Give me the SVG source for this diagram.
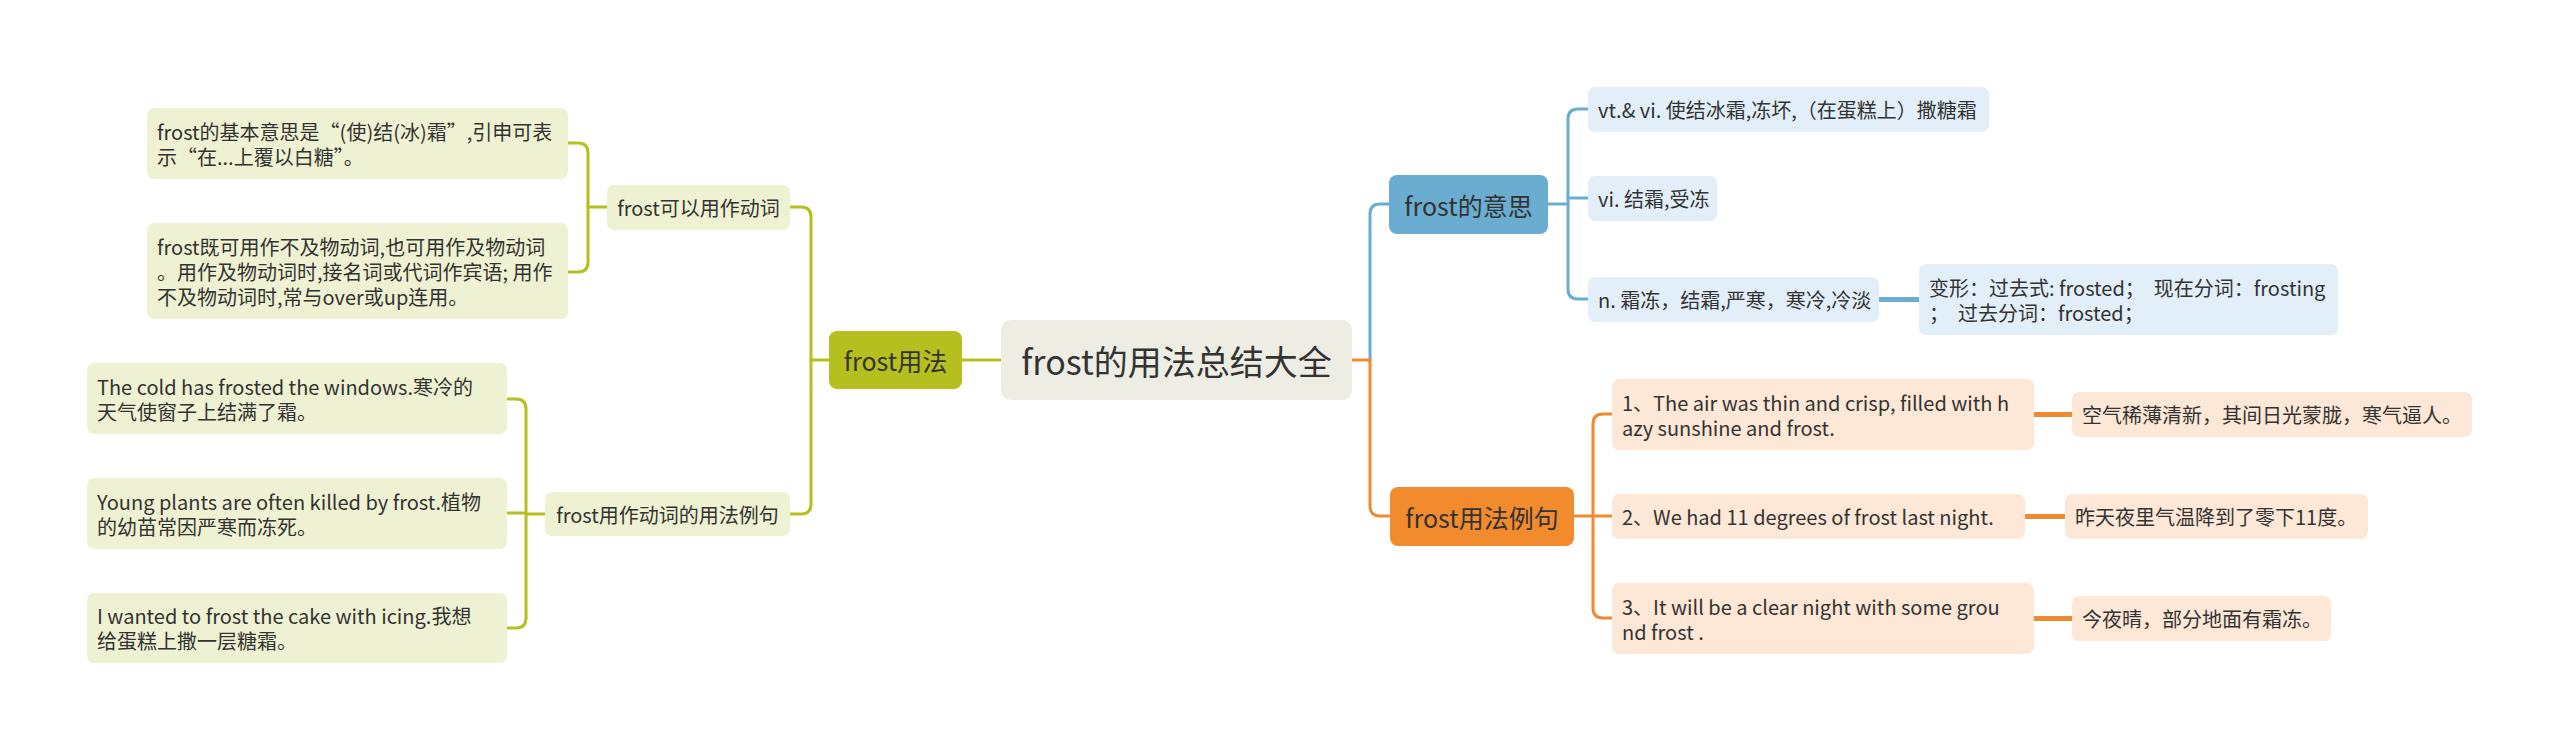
<svg xmlns="http://www.w3.org/2000/svg" width="2560" height="751" viewBox="0 0 2560 751">
<style>
text{font-family:"Noto Sans CJK SC","Noto Sans",sans-serif;fill:#333;dominant-baseline:central;white-space:pre}
.t20{font-size:20px}
.t25{font-size:25px;text-anchor:middle}
.mid{text-anchor:middle}
.c{fill:none;stroke-width:3;stroke-linecap:round}
.ol{stroke:#B5C01E}.bl{stroke:#6AADD1}.or{stroke:#F08A30}
.thick{stroke-width:5}
.lf{fill:#EFF2D2}.bf{fill:#E2EFF8}.of{fill:#FDE7D6}
</style>
<rect width="2560" height="751" fill="#FFFFFF"/>
<g id="connectors">
<path class="c ol" d="M1001,360 H962"/>
<path class="c ol" d="M829,360 H811"/>
<path class="c ol" d="M790,207 H801 Q811,207 811,217 V504 Q811,514 801,514 H790"/>
<path class="c ol" d="M607,207 H588"/>
<path class="c ol" d="M568,143 H578 Q588,143 588,153 V262 Q588,272 578,272 H568"/>
<path class="c ol" d="M545,514 H526"/>
<path class="c ol" d="M507,399 H516 Q526,399 526,409 V618 Q526,628 516,628 H507"/>
<path class="c ol" d="M507,513 H526"/>
<path class="c bl" d="M1370,360 V214 Q1370,204 1380,204 H1389"/>
<path class="c or" d="M1352,360 H1370 V506 Q1370,516 1380,516 H1390"/>
<path class="c bl" d="M1548,204 H1568"/>
<path class="c bl" d="M1588,109 H1578 Q1568,109 1568,119 V289 Q1568,299 1578,299 H1588"/>
<path class="c bl" d="M1568,198 H1588"/>
<path class="c bl thick" d="M1879,299.5 H1919"/>
<path class="c or" d="M1574,516 H1593"/>
<path class="c or" d="M1612,414 H1603 Q1593,414 1593,424 V608 Q1593,618 1603,618 H1612"/>
<path class="c or" d="M1593,516 H1612"/>
<path class="c or thick" d="M2034,414.5 H2072"/>
<path class="c or thick" d="M2025,516.5 H2065"/>
<path class="c or thick" d="M2034,618.5 H2072"/>
</g>
<g id="root">
<rect x="1001" y="320" width="351" height="80" rx="10" fill="#EDEDE4"/>
<text class="mid" x="1176.5" y="360" style="font-size:34px">frost的用法总结大全</text>
</g>
<g id="n-usage">
<rect x="829" y="331" width="133" height="58" rx="8" fill="#B5BF1D"/>
<text class="t25" x="895.5" y="360">frost用法</text>
</g>
<g id="n-meaning">
<rect x="1389" y="175" width="159" height="59" rx="8" fill="#6AADD1"/>
<text class="t25" x="1468.5" y="204.5">frost的意思</text>
</g>
<g id="n-examples">
<rect x="1390" y="487" width="184" height="59" rx="8" fill="#F28B2E"/>
<text class="t25" x="1482" y="516.5">frost用法例句</text>
</g>
<g id="n-verb">
<rect class="lf" x="607" y="185" width="183" height="45" rx="7"/>
<text class="t20 mid" x="698.5" y="207.5">frost可以用作动词</text>
</g>
<g id="n-verb-ex">
<rect class="lf" x="545" y="492" width="245" height="44" rx="7"/>
<text class="t20 mid" x="667.5" y="514">frost用作动词的用法例句</text>
</g>
<g id="n-a">
<rect class="lf" x="147" y="108" width="421" height="71" rx="7"/>
<text class="t20" x="157" y="131">frost的基本意思是“(使)结(冰)霜”,引申可表</text>
<text class="t20" x="157" y="156">示“在...上覆以白糖”。</text>
</g>
<g id="n-b">
<rect class="lf" x="147" y="223" width="421" height="96" rx="7"/>
<text class="t20" x="157" y="246">frost既可用作不及物动词,也可用作及物动词</text>
<text class="t20" x="157" y="271">。用作及物动词时,接名词或代词作宾语; 用作</text>
<text class="t20" x="157" y="296">不及物动词时,常与over或up连用。</text>
</g>
<g id="n-c">
<rect class="lf" x="87" y="363" width="420" height="71" rx="7"/>
<text class="t20" x="97" y="386">The cold has frosted the windows.寒冷的</text>
<text class="t20" x="97" y="411">天气使窗子上结满了霜。</text>
</g>
<g id="n-d">
<rect class="lf" x="87" y="478" width="420" height="71" rx="7"/>
<text class="t20" x="97" y="501">Young plants are often killed by frost.植物</text>
<text class="t20" x="97" y="526">的幼苗常因严寒而冻死。</text>
</g>
<g id="n-e">
<rect class="lf" x="87" y="593" width="420" height="70" rx="7"/>
<text class="t20" x="97" y="615.5">I wanted to frost the cake with icing.我想</text>
<text class="t20" x="97" y="640.5">给蛋糕上撒一层糖霜。</text>
</g>
<g id="n-r1">
<rect class="bf" x="1588" y="87" width="401" height="45" rx="7"/>
<text class="t20" x="1598" y="109.5">vt.&amp; vi. 使结冰霜,冻坏,（在蛋糕上）撒糖霜</text>
</g>
<g id="n-r2">
<rect class="bf" x="1588" y="176" width="129" height="45" rx="7"/>
<text class="t20" x="1598" y="198.5">vi. 结霜,受冻</text>
</g>
<g id="n-r3">
<rect class="bf" x="1588" y="277" width="291" height="45" rx="7"/>
<text class="t20" x="1598" y="299.5">n. 霜冻，结霜,严寒，寒冷,冷淡</text>
</g>
<g id="n-r4">
<rect class="bf" x="1919" y="264" width="419" height="71" rx="7"/>
<text class="t20" x="1929" y="287">变形：过去式: frosted；  现在分词：frosting</text>
<text class="t20" x="1929" y="312">；  过去分词：frosted；</text>
</g>
<g id="n-o1">
<rect class="of" x="1612" y="379" width="422" height="71" rx="7"/>
<text class="t20" x="1622" y="402">1、The air was thin and crisp, filled with h</text>
<text class="t20" x="1622" y="427">azy sunshine and frost.</text>
</g>
<g id="n-o2">
<rect class="of" x="1612" y="494" width="413" height="45" rx="7"/>
<text class="t20" x="1622" y="516.5">2、We had 11 degrees of frost last night.</text>
</g>
<g id="n-o3">
<rect class="of" x="1612" y="583" width="422" height="71" rx="7"/>
<text class="t20" x="1622" y="606">3、It will be a clear night with some grou</text>
<text class="t20" x="1622" y="631">nd frost .</text>
</g>
<g id="n-t1">
<rect class="of" x="2072" y="392" width="400" height="45" rx="7"/>
<text class="t20" x="2082" y="414.5">空气稀薄清新，其间日光蒙胧，寒气逼人。</text>
</g>
<g id="n-t2">
<rect class="of" x="2065" y="494" width="303" height="45" rx="7"/>
<text class="t20" x="2075" y="516.5">昨天夜里气温降到了零下11度。</text>
</g>
<g id="n-t3">
<rect class="of" x="2072" y="596" width="259" height="45" rx="7"/>
<text class="t20" x="2082" y="618.5">今夜晴，部分地面有霜冻。</text>
</g>
</svg>
